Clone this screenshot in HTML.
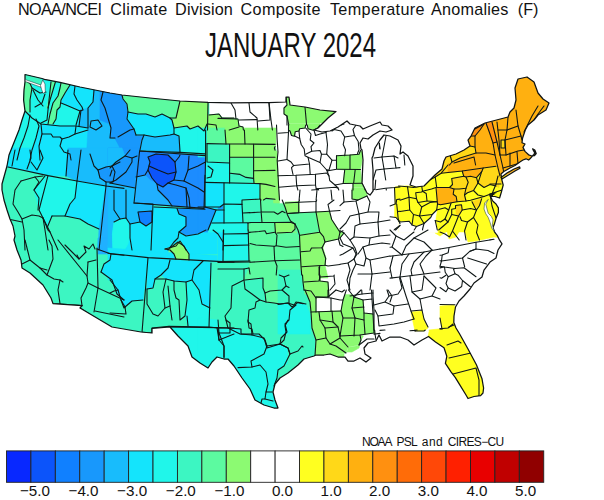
<!DOCTYPE html>
<html lang="en"><head><meta charset="utf-8"><title>NOAA/NCEI Climate Division Composite Temperature Anomalies (F) - January 2024</title>
<style>
html,body{margin:0;padding:0;background:#fff;}
body{width:604px;height:500px;overflow:hidden;position:relative;font-family:"Liberation Sans",sans-serif;}
svg{position:absolute;left:0;top:0;}
text{font-family:"Liberation Sans",sans-serif;fill:#111;}
</style></head><body>
<svg width="604" height="500" viewBox="0 0 604 500">
<defs><clipPath id="us"><polygon points="44.4,79.4 60,82.4 80,87 100,91 110,93 122,95 150,98 180,101 208,102.4 230,102.8 269,102.6 286,102 286,97 289,97 290,105 305,107 320,110 336,111.6 328,118 318,128 314,130 322,132 330,131 338,127 347,121 350,124 360,126 363,129 370,126 380,122 382,125 388,126 392,130 386,132 380,131 373,135 368,139 363,138 360,143 361,149 362,150 363,160 362,183 367,193 370,195 373,191 373,170 372,158 373,156 375,148 380,140 384,135 390,136 398,140 401,146 400,154 403,152 408,156 413,166 413,176 410,185 416,187 424,186 430,180 435,175 442,169 444,161 446,157 456,154 464,150 470,146 468,140 471,136 475,128 485,123 508,117 510,112 514,108 516,100 515,88 518,79 527,77 534,82 538,93 543,99 549,103 546,110 538,115 534,120 528,125 525.3,130 522.6,138 522,142.7 525,144 523,147.4 525,151.4 528.6,154.8 532,156 534.5,155.7 536.2,153.5 534.8,150 532.6,148.8 533.4,150.4 534.8,153 533.6,154.6 532,156.5 530,158.8 528.6,160 526,158.8 523,160 520.6,161.5 515,165.5 510,168 503.8,171.5 501,174 501.8,179.6 503.2,185 501.4,192 499.6,198 495,196.5 490.6,196.4 492.4,200.6 496,204 498.4,207.8 498.4,212.6 496,218.6 494.2,224.6 493,227.6 494.8,232.4 497.2,235.4 499.6,240.2 502,243.8 498,250 496,258 490,262 484,270 482,277 474,283 470,289 464,296 459,301 455.5,307 454,316 453.8,322.5 456,328 459.5,333.8 468,349 476.4,364.7 482,378.8 483.6,388 483,393 480.6,395.7 474,396.5 468,398.5 466,395 459.5,384.4 455.2,377.4 451,371.8 445.4,363.3 446.8,356.3 444,347.8 435.5,342 428.5,336.5 422,340 414,345 408,340 400,337 390,337 386,339 382,341 379,335 376,341 368,343 364,348 365,354 371,358 366,362 360,358 354,361 348,361 345,357 338,357 330,354 324,355 316,355 314,356 304,359 298,365 288,373 280,378 275,384 273,392 275,400 278,408 274,408 264,405 255,400 250,389 242,378 234,366 228,359 224,359 217,357 212,362 208,368 200,363 192,357 188,346 178,336 170,327 152,328.4 152,333 141,332 112,327 80,308 82,305.6 53,303.6 51,298 43,285 30,273 22,268 21,260 17,250 14,240 15,236 13,226 10,219 7,210 4,200 2,190 2,184 7,166 9,155 11,150 15,140 19,130 22,120 25,111 23.6,100 24,90 25,82 25,74.5 42,78.5"/>
<polygon points="501,177.5 507,173 514,169 519.5,166.8 520,168.2 515,171 508.5,175 502,179"/>
</clipPath></defs>
<polygon points="44.4,79.4 60,82.4 80,87 100,91 110,93 122,95 150,98 180,101 208,102.4 230,102.8 269,102.6 286,102 286,97 289,97 290,105 305,107 320,110 336,111.6 328,118 318,128 314,130 322,132 330,131 338,127 347,121 350,124 360,126 363,129 370,126 380,122 382,125 388,126 392,130 386,132 380,131 373,135 368,139 363,138 360,143 361,149 362,150 363,160 362,183 367,193 370,195 373,191 373,170 372,158 373,156 375,148 380,140 384,135 390,136 398,140 401,146 400,154 403,152 408,156 413,166 413,176 410,185 416,187 424,186 430,180 435,175 442,169 444,161 446,157 456,154 464,150 470,146 468,140 471,136 475,128 485,123 508,117 510,112 514,108 516,100 515,88 518,79 527,77 534,82 538,93 543,99 549,103 546,110 538,115 534,120 528,125 525.3,130 522.6,138 522,142.7 525,144 523,147.4 525,151.4 528.6,154.8 532,156 534.5,155.7 536.2,153.5 534.8,150 532.6,148.8 533.4,150.4 534.8,153 533.6,154.6 532,156.5 530,158.8 528.6,160 526,158.8 523,160 520.6,161.5 515,165.5 510,168 503.8,171.5 501,174 501.8,179.6 503.2,185 501.4,192 499.6,198 495,196.5 490.6,196.4 492.4,200.6 496,204 498.4,207.8 498.4,212.6 496,218.6 494.2,224.6 493,227.6 494.8,232.4 497.2,235.4 499.6,240.2 502,243.8 498,250 496,258 490,262 484,270 482,277 474,283 470,289 464,296 459,301 455.5,307 454,316 453.8,322.5 456,328 459.5,333.8 468,349 476.4,364.7 482,378.8 483.6,388 483,393 480.6,395.7 474,396.5 468,398.5 466,395 459.5,384.4 455.2,377.4 451,371.8 445.4,363.3 446.8,356.3 444,347.8 435.5,342 428.5,336.5 422,340 414,345 408,340 400,337 390,337 386,339 382,341 379,335 376,341 368,343 364,348 365,354 371,358 366,362 360,358 354,361 348,361 345,357 338,357 330,354 324,355 316,355 314,356 304,359 298,365 288,373 280,378 275,384 273,392 275,400 278,408 274,408 264,405 255,400 250,389 242,378 234,366 228,359 224,359 217,357 212,362 208,368 200,363 192,357 188,346 178,336 170,327 152,328.4 152,333 141,332 112,327 80,308 82,305.6 53,303.6 51,298 43,285 30,273 22,268 21,260 17,250 14,240 15,236 13,226 10,219 7,210 4,200 2,190 2,184 7,166 9,155 11,150 15,140 19,130 22,120 25,111 23.6,100 24,90 25,82 25,74.5 42,78.5" fill="#fff"/>
<g clip-path="url(#us)">
<polygon points="209,60 209,102.4 209,115 219,114 222,118 238,119 239,126 243,127 244,135 273,134 275,146 276,150 278,162 277,176 278,186 282,200 285,202 299,201.6 299.6,212.5 328,212 331,220 339,230 344,233 340,238 332,240 325,241 323,248 326,258 325,266 319.5,267 320,281 328,282 328,297 316,297 316,312 341,311 343,300 347,288 354,297 363,300 364,313 373,314 374,333 360,335 361,340 359,345 348,347 346,353 338,354 333,357 330,370 300,430 0,430 0,60" fill="#3cf6c2" stroke="#3cf6c2" stroke-width="0.6"/>
<polygon points="0,60 124,60 124,164 0,164" fill="#14e4fc" stroke="#14e4fc" stroke-width="0.6"/>
<polygon points="20,68 60,82 58,96 53,103 50,114 48,124 41,124 39,126 36,138 32,150 30,164 0,164 0,68" fill="#20f6ea" stroke="#20f6ea" stroke-width="0.6"/>
<polygon points="61,103 66,105 80,111 76,125 60,125 53,124 56,119 57,110 60,107" fill="#20f6ea" stroke="#20f6ea" stroke-width="0.6"/>
<polygon points="24,80 30,83.6 32,88 30,100 30,112 24,111.6" fill="#5cfaa0" stroke="#5cfaa0" stroke-width="0.6"/>
<polygon points="24,73 41,78.4 42.6,85.6 30,83.6 25,80.4" fill="#3cf6c2" stroke="#3cf6c2" stroke-width="0.6"/>
<polygon points="51.4,81.6 55.4,82 52.4,92 50,100 48,108 46.4,108 49,98" fill="#5cfaa0" stroke="#5cfaa0" stroke-width="0.6"/>
<polygon points="61,82.6 70.4,84.6 65,93 61,100 60,107 57,110 56,119 53,124 48,124 50,114 53,103 58,96 60,88" fill="#5cfaa0" stroke="#5cfaa0" stroke-width="0.6"/>
<polygon points="94,88 104,90 101,100 105,108 108,118 111,128 110,138 116,139 124,150 124,164 86,164 88,128 79,126 81,110 88,108 93,102" fill="#18bcfc" stroke="#18bcfc" stroke-width="0.6"/>
<polygon points="72,149 82,150 80,164 70,164" fill="#18bcfc" stroke="#18bcfc" stroke-width="0.6"/>
<polygon points="103,90 124,94 124,150 120,146 115,138.4 110,138 111,128 108,118 105,108 101,100" fill="#1898fc" stroke="#1898fc" stroke-width="0.6"/>
<polygon points="0,148 68,148 66,176 48,175.6 8,167 0,166" fill="#14e4fc" stroke="#14e4fc" stroke-width="0.6"/>
<polygon points="68,148 81,148 77,181 66,176" fill="#18bcfc" stroke="#18bcfc" stroke-width="0.6"/>
<polygon points="81,148 124,148 124,188.4 106,186 77,181" fill="#18bcfc" stroke="#18bcfc" stroke-width="0.6"/>
<polygon points="98,170 106,167 112,166 120,162 124,162 124,185 113,182 106,182 100,178" fill="#1898fc" stroke="#1898fc" stroke-width="0.6"/>
<polygon points="34,190 45,176 48,175.6 43,200 39,210" fill="#20f6ea" stroke="#20f6ea" stroke-width="0.6"/>
<polygon points="48,175.6 77,181 75,198 70,204 65,216 52,216 47,228 43,218 39,210" fill="#20f6ea" stroke="#20f6ea" stroke-width="0.6"/>
<polygon points="77,181 106,186 99,229 88,224 80,219 65,216 70,204 75,198" fill="#14e4fc" stroke="#14e4fc" stroke-width="0.6"/>
<polygon points="106,186 124,188.4 124,254 98,254 99,229" fill="#20b0ff" stroke="#20b0ff" stroke-width="0.6"/>
<polygon points="98,238 109,238 108,248.4 97.6,249" fill="#20b0ff" stroke="#20b0ff" stroke-width="0.6"/>
<polygon points="109,238 124,238 124,255 111,254 108,248.4" fill="#14e4fc" stroke="#14e4fc" stroke-width="0.6"/>
<polygon points="111,254 124,255 124,300 117,294 112,280 101,272 104,264 110,260" fill="#14e4fc" stroke="#14e4fc" stroke-width="0.6"/>
<polygon points="100,90 122,95 123,99 127,104 128,112 127,119 134,129 130,130 118,137 110,124 100,120" fill="#1898fc" stroke="#1898fc" stroke-width="0.6"/>
<polygon points="115,138 124,134 131,128 135,130 136,135.6 143.6,135 142,140 140,150 139,154 124,155 120,148 117,142" fill="#1898fc" stroke="#1898fc" stroke-width="0.6"/>
<polygon points="122,94 180,100 176,118 170,118 162,114 155,117 146,114 138,114 128,112 127,104 123,99" fill="#5cfaa0" stroke="#5cfaa0" stroke-width="0.6"/>
<polygon points="180,100 208,101.6 207,124 204,131 198,126 190,129 187,126 174,128 172,120 176,118" fill="#8cfa72" stroke="#8cfa72" stroke-width="0.6"/>
<polygon points="128,112 138,114 146,114 155,117 162,114 170,118 172,120 174,128 174,134 170,135 155,137 144,135 136,135 134,129 127,119" fill="#14e4fc" stroke="#14e4fc" stroke-width="0.6"/>
<polygon points="174,128 187,126 190,129 198,126 204,131 207,124 207,154 180,152 179,136 174,134" fill="#20f6ea" stroke="#20f6ea" stroke-width="0.6"/>
<polygon points="144,135 155,137 170,135 174,134 179,136 180,152 140,150 142,140" fill="#18bcfc" stroke="#18bcfc" stroke-width="0.6"/>
<polygon points="207.6,115 219,114 222,118 234,118 234,130 225,130 226,143.6 207.6,143.6" fill="#8cfa72" stroke="#8cfa72" stroke-width="0.6"/>
<polygon points="207,144 234,144 234,164 207,164" fill="#5cfaa0" stroke="#5cfaa0" stroke-width="0.6"/>
<polygon points="108,148 140,148 139.6,151 137,176 135,188 122,186 110,183.6 108,182" fill="#1898fc" stroke="#1898fc" stroke-width="0.6"/>
<polygon points="108,148 122,148 125,156 116,162 110,168 108,168" fill="#18bcfc" stroke="#18bcfc" stroke-width="0.6"/>
<polygon points="139.6,151 205.6,155.6 204,208.4 134,203" fill="#1c8cff" stroke="#1c8cff" stroke-width="0.6"/>
<polygon points="136,177 145,175 150,180 157,184 158,190 168,200 172,206 134,203" fill="#20b0ff" stroke="#20b0ff" stroke-width="0.6"/>
<polygon points="148,157 156,154 168,155 175,162 176,172 174,180 168,183 163,187 157,184 152,178 148,170 150,162" fill="#0c54fa" stroke="#0c54fa" stroke-width="0.6"/>
<polygon points="108,183 135,188 134,203 153,204 151,254 108,254" fill="#18bcfc" stroke="#18bcfc" stroke-width="0.6"/>
<polygon points="138,212 152,211 152,222 146,226 140,222" fill="#1080ff" stroke="#1080ff" stroke-width="0.6"/>
<polygon points="114,222 120,219 126,218 130,224 140,222 146,226 152,222 151,254 113,254 112.4,234" fill="#14e4fc" stroke="#14e4fc" stroke-width="0.6"/>
<polygon points="114,222 120,219 127,220 130,234 128,244 122,254 113,254 112.4,234" fill="#20f6ea" stroke="#20f6ea" stroke-width="0.6"/>
<polygon points="154,207 177,208.4 179,214 186,217 186,226 179,232 178,238 174,242 168,254 151,254 153,207" fill="#14e4fc" stroke="#14e4fc" stroke-width="0.6"/>
<polygon points="177,208.4 222,210 213,216 208,229 198,234 186,236 180,232 186,226 186,217 179,214" fill="#1898fc" stroke="#1898fc" stroke-width="0.6"/>
<polygon points="222,210 224.4,210 223,242 218,234 213,230 208,229 213,216" fill="#18bcfc" stroke="#18bcfc" stroke-width="0.6"/>
<polygon points="178,238 179,232 180,232 186,236 198,234 208,229 213,230 218,234 223,242 223,254 168,254 174,242" fill="#14e4fc" stroke="#14e4fc" stroke-width="0.6"/>
<polygon points="170,248 178,242 184,246 186,254 168,254" fill="#8cfa72" stroke="#8cfa72" stroke-width="0.6"/>
<polygon points="206,162 224.4,162 224.4,183 205.6,182" fill="#20f6ea" stroke="#20f6ea" stroke-width="0.6"/>
<polygon points="205,182.4 224.4,183.2 224.4,209.2 204,208.4" fill="#14e4fc" stroke="#14e4fc" stroke-width="0.6"/>
<polygon points="206,148 234,148 234,161.6 206.4,161.6" fill="#5cfaa0" stroke="#5cfaa0" stroke-width="0.6"/>
<polygon points="108,248 148,251 224,256 224,262.4 148,258.4 108,254.4" fill="#14e4fc" stroke="#14e4fc" stroke-width="0.6"/>
<polygon points="108,252 148,257.6 143,300 132,301 125,307 121,300 118,290 110,280 108,280" fill="#14e4fc" stroke="#14e4fc" stroke-width="0.6"/>
<polygon points="148,257.6 170,260 168,268 161,275 155,279 153,288 147,289" fill="#14e4fc" stroke="#14e4fc" stroke-width="0.6"/>
<polygon points="170,260 203,261 198,266 194,270 192,280 186,282 174,281 166,279 161,275 168,268" fill="#14e4fc" stroke="#14e4fc" stroke-width="0.6"/>
<polygon points="203,261 211,263 210,308 202,304 199,290 192,280 194,270 198,266" fill="#14e4fc" stroke="#14e4fc" stroke-width="0.6"/>
<polygon points="187,282 192,280 199,290 202,304 210,308 209,327 188,326 185,316 187,300" fill="#20f6ea" stroke="#20f6ea" stroke-width="0.6"/>
<polygon points="165,249 176,246 180,241 185,248 189,254 189,260 176,259.2 174,254 170,250" fill="#8cfa72" stroke="#8cfa72" stroke-width="0.6"/>
<polygon points="170,326.4 218,328 219,344 180,344" fill="#20f6ea" stroke="#20f6ea" stroke-width="0.6"/>
<polygon points="170,326 217,327.6 219,340 224,346 224,358 234,360 234,424 170,424" fill="#20f6ea" stroke="#20f6ea" stroke-width="0.6"/>
<polygon points="218,118.4 238,119 239,126 243,127 244,135 273,134 274.4,144 277,156 277,170 278,184 280,194 260,194 260,184 254,183 253,157 230,157 229,145 226,131 218,131" fill="#8cfa72" stroke="#8cfa72" stroke-width="0.6"/>
<polygon points="230,145 253,145 253,157 231,157" fill="#5cfaa0" stroke="#5cfaa0" stroke-width="0.6"/>
<polygon points="218,131 226,131 229,145 229,162 218,163" fill="#3cf6c2" stroke="#3cf6c2" stroke-width="0.6"/>
<polygon points="230,157.6 253,157.6 253,170 240,174.4 230,172.4" fill="#5cfaa0" stroke="#5cfaa0" stroke-width="0.6"/>
<polygon points="230,172.4 240,174.4 253,178 254,183 230,182.4" fill="#3cf6c2" stroke="#3cf6c2" stroke-width="0.6"/>
<polygon points="218,163 229,162.4 230,182.4 224,183.6 218,183.6" fill="#20f6ea" stroke="#20f6ea" stroke-width="0.6"/>
<polygon points="224,183.6 260,184 260,194 224,194" fill="#20f6ea" stroke="#20f6ea" stroke-width="0.6"/>
<polygon points="286,97 289,97 290,105 305,107 336,111.6 318,128 314,130 308,129 306,128 301,128 299,131 295,132 295,137 292,133 289,126 287,116 284,114 284,108 287,105" fill="#8cfa72" stroke="#8cfa72" stroke-width="0.6"/>
<polygon points="336,157 342,156 342,170 337,170" fill="#8cfa72" stroke="#8cfa72" stroke-width="0.6"/>
<polygon points="218,178 278,178 290,222 301,240 302,284 218,284" fill="#5cfaa0" stroke="#5cfaa0" stroke-width="0.6"/>
<polygon points="230,178 253,178 254,183 230,182.4" fill="#5cfaa0" stroke="#5cfaa0" stroke-width="0.6"/>
<polygon points="254,178 277,178 278,187 261,185 260,184 254,183" fill="#8cfa72" stroke="#8cfa72" stroke-width="0.6"/>
<polygon points="224,183 260,184 260,199 241,200 241,222 224,222.4" fill="#20f6ea" stroke="#20f6ea" stroke-width="0.6"/>
<polygon points="218,182 224,183 223,210 218,210" fill="#1898fc" stroke="#1898fc" stroke-width="0.6"/>
<polygon points="218,210 223,210 223,262 218,262" fill="#14e4fc" stroke="#14e4fc" stroke-width="0.6"/>
<polygon points="261,185 272,186 278,187 282,200 278,200 274,199 265,200 262,202 261,199" fill="#8cfa72" stroke="#8cfa72" stroke-width="0.6"/>
<polygon points="241,200 260,199 262,202 261,212 259,214 244,214 242,210" fill="#3cf6c2" stroke="#3cf6c2" stroke-width="0.6"/>
<polygon points="244,214 259,214 260,222 242,222 243,217" fill="#3cf6c2" stroke="#3cf6c2" stroke-width="0.6"/>
<polygon points="224,223 248,223 249,261 223,262" fill="#20f6ea" stroke="#20f6ea" stroke-width="0.6"/>
<polygon points="275,222.4 290,222 293,222 297,233 291,231 284,233 276,233" fill="#8cfa72" stroke="#8cfa72" stroke-width="0.6"/>
<polygon points="317,213 328,212 331,220 338,230 337,238 326,241 321,232 318,223" fill="#8cfa72" stroke="#8cfa72" stroke-width="0.6"/>
<polygon points="300,236 319,231 324,240 325,248 326,258 325,265 319,266 319,284 302,284 301,252" fill="#8cfa72" stroke="#8cfa72" stroke-width="0.6"/>
<polygon points="285,202 299,201.6 299.6,212 287,213" fill="#8cfa72" stroke="#8cfa72" stroke-width="0.6"/>
<polygon points="280,178 344,178 344,211 328,212 315,213 299.6,212.4 299,201.6 285,202 282,200 278,187" fill="#ffffff" stroke="#ffffff" stroke-width="0.6"/>
<polygon points="328,212 344,210 344,284 319,284 319,266 325,265 326,258 325,248 324,240 326,241 337,238 338,230 331,220" fill="#ffffff" stroke="#ffffff" stroke-width="0.6"/>
<polygon points="218,261 250,261 249,268 244,280 245,289 252,294 260,300 266,302 274,303 280,304 288,303 294,305 296,302 304,304 309,306 311,312 310,328 313,348 316,364 218,364" fill="#3cf6c2" stroke="#3cf6c2" stroke-width="0.6"/>
<polygon points="250,260 301,259 302,268 303,277 304,304 296,302 294,305 288,303 280,304 274,303 266,302 260,300 252,294 245,289 244,280 249,268" fill="#5cfaa0" stroke="#5cfaa0" stroke-width="0.6"/>
<polygon points="245,280 263,278 263,288 265,293 266,302 260,300 252,294 245,289" fill="#3cf6c2" stroke="#3cf6c2" stroke-width="0.6"/>
<polygon points="301,259 326,259 326,262 320,266 319,280 324,281 328,286 329,294 316,298 316,311 331,310 344,310 344,364 316,364 313,348 310,328 311,312 309,306 304,304 303,277" fill="#8cfa72" stroke="#8cfa72" stroke-width="0.6"/>
<polygon points="326,258 344,258 344,310 331,310 331,296 329,293 328,286 324,281 319,280 320,266" fill="#ffffff" stroke="#ffffff" stroke-width="0.6"/>
<polygon points="316,298 331,296 331,310 316,311" fill="#ffffff" stroke="#ffffff" stroke-width="0.6"/>
<polygon points="319,281 324,281 328,286 329,293 316,297.6 317,288" fill="#8cfa72" stroke="#8cfa72" stroke-width="0.6"/>
<polygon points="218,328 230,329 240,334 252,335 264,338 267,348 280,344 288,348 290,354 289,364 218,364" fill="#20f6ea" stroke="#20f6ea" stroke-width="0.6"/>
<polygon points="198,318 218,320 219,333 230,333 230,328 241,329 241,334 259,334 265,340 267,346 280,344 288,348 290,354 284,366 278,370 277,378 274,386 272,392 280,412 198,424" fill="#20f6ea" stroke="#20f6ea" stroke-width="0.6"/>
<polygon points="316,318 328,318 328,360 314,358 317,340 316,328" fill="#8cfa72" stroke="#8cfa72" stroke-width="0.6"/>
<polygon points="336,158 350,157 358,155 362,151 363,158 361,169 362.4,183 367,193 363,198 353,200 353,184 343,183 344,170 337,170" fill="#8cfa72" stroke="#8cfa72" stroke-width="0.6"/>
<polygon points="343,178 362,178 363,183 367,193 363,198 352,200 351,192 352,184 344,184" fill="#8cfa72" stroke="#8cfa72" stroke-width="0.6"/>
<polygon points="328,218 330,218 339,230 344,236 341,239 330,243 328,243" fill="#8cfa72" stroke="#8cfa72" stroke-width="0.6"/>
<polygon points="394,187 407,186 410,187 422,187 430,180 437,178 454,178 454,186 439,188 439,202 436,212 432,218 426,219 424,226 416,226 411,225 409,219 400,217 397,214 390,214 388,208 394,204" fill="#ffff20" stroke="#ffff20" stroke-width="0.6"/>
<polygon points="439,188 454,186 454,204 441,205 439,198" fill="#ffd818" stroke="#ffd818" stroke-width="0.6"/>
<polygon points="442,206 454,208 454,216 446,226 439,234 435,230 436,218 439,210" fill="#ffff20" stroke="#ffff20" stroke-width="0.6"/>
<polygon points="428,179 438,175 449,172 462,170 476,167 484,168 490,174 498,176 502,177 558,150 558,70 470,70 428,150" fill="#ffb010" stroke="#ffb010" stroke-width="0.6"/>
<polygon points="442,169 445,160 450,155 456,154 464,151 470,146 475,147 476,153 460,158 452,162 449,172 438,175 436,174" fill="#ffd818" stroke="#ffd818" stroke-width="0.6"/>
<polygon points="473,130 484,124 480,130 475,136 471,136" fill="#ff9010" stroke="#ff9010" stroke-width="0.6"/>
<polygon points="486,123 492,122 497,142 493,143 490,134" fill="#ff9010" stroke="#ff9010" stroke-width="0.6"/>
<polygon points="501,140 505,140 505,148 501,148" fill="#ffd818" stroke="#ffd818" stroke-width="0.6"/>
<polygon points="547,113 552,115 550,120 542,125 540,123 545,118" fill="#ff9010" stroke="#ff9010" stroke-width="0.6"/>
<polygon points="428,180 434,178 449,173 451,184 442,187 436,186 435,204 428,206" fill="#ffff20" stroke="#ffff20" stroke-width="0.6"/>
<polygon points="436,187 442,187 451,185 455,190 456,200 455,204 442,206 435,204" fill="#ffb010" stroke="#ffb010" stroke-width="0.6"/>
<polygon points="451,173 462,170 476,167 484,168 490,174 498,176 507,175 507,185 496,184 486,184 477,186 470,190 466,189 463,198 456,200 455,190 451,184" fill="#ffd818" stroke="#ffd818" stroke-width="0.6"/>
<polygon points="470,190 477,186 486,184 496,184 507,185 508,190 502,198 496,204 490,214 460,214 463,198 466,189" fill="#ffff20" stroke="#ffff20" stroke-width="0.6"/>
<polygon points="428,206 435,204 442,206 455,204 463,198 460,214 428,214" fill="#ffd818" stroke="#ffd818" stroke-width="0.6"/>
<polygon points="408,188 440,188 442,204 452,206 455,214 457,207 462,203 470,205 478,202 480,196 506,188 506,238 494,237 476,241 468,242 465,232 460,230 456,237 449,239 447,231 440,236 435,233 436,226 433,220 430,225 425,226 418,220 414,224 408,222" fill="#ffff20" stroke="#ffff20" stroke-width="0.6"/>
<polygon points="440,188 453,188 455,200 464,198 470,195 480,196 478,202 470,205 462,203 457,207 455,214 452,206 442,204" fill="#ffd818" stroke="#ffd818" stroke-width="0.6"/>
<polygon points="472,198 481,196 483,202 480,208 474,206" fill="#ffd818" stroke="#ffd818" stroke-width="0.6"/>
<polygon points="347,286 352,296 363,300 364,314 373,315 375,334 364,335 360,342 359,348 352,352 314,352 314,312 330,311 338,302 341,300 343,292" fill="#8cfa72" stroke="#8cfa72" stroke-width="0.6"/>
<polygon points="316,297 331,298 331,311 316,312" fill="#ffffff" stroke="#ffffff" stroke-width="0.6"/>
<polygon points="411,312 422,311 424,320 428,328 424,331 415,331 413,322" fill="#ffff20" stroke="#ffff20" stroke-width="0.6"/>
<polygon points="440,306 454,305 456,310 455,318 454,325 449,327 442,329 440,318" fill="#ffff20" stroke="#ffff20" stroke-width="0.6"/>
<polygon points="429,332 442,329 449,327 454,325 468,354 444,354 438,344 428,337" fill="#ffff20" stroke="#ffff20" stroke-width="0.6"/>
<polygon points="429,330 448,328 453,324 462,320 538,320 538,424 430,424 430,340" fill="#ffff20" stroke="#ffff20" stroke-width="0.6"/>
<polygon points="207,128 225,128 226,144 207,143.6" fill="#5cfaa0" stroke="#5cfaa0" stroke-width="0.6"/>
<polygon points="225,128 276,128 276,144.4 274.4,148 277,157 277,170 278,186 277,187 266,184.4 260,183.6 254,183 253.6,178.4 253.6,157.6 230,157.6 229.6,144.4 226,144" fill="#8cfa72" stroke="#8cfa72" stroke-width="0.6"/>
<polygon points="207,143.6 229.6,144.4 229.6,163 207,162" fill="#3cf6c2" stroke="#3cf6c2" stroke-width="0.6"/>
<polygon points="230,157.6 253.6,157.6 253.6,178.4 246,177.4 240,174.4 230,173.2" fill="#5cfaa0" stroke="#5cfaa0" stroke-width="0.6"/>
<polygon points="230,173.2 240,174.4 246,177.4 253.6,178.4 254,183.2 230,183.2" fill="#3cf6c2" stroke="#3cf6c2" stroke-width="0.6"/>
<polygon points="205.6,162 229.6,163 229.6,182.8 205,182.4" fill="#20f6ea" stroke="#20f6ea" stroke-width="0.6"/>
<polygon points="198,157 205.6,157 205,182.4 205,207 198,207" fill="#1c8cff" stroke="#1c8cff" stroke-width="0.6"/>
<polygon points="198,128 206,128 205.6,157 198,157" fill="#20f6ea" stroke="#20f6ea" stroke-width="0.6"/>
<polygon points="205,182.4 224,183 224,204 220,207 205,207" fill="#14e4fc" stroke="#14e4fc" stroke-width="0.6"/>
<polygon points="224,183.2 260,183.6 260,199 242,200 242,204.4 224,204" fill="#20f6ea" stroke="#20f6ea" stroke-width="0.6"/>
<polygon points="260,183.6 266,184.4 277,187 281,199 276,199.4 266,198.4 262,201 260,199" fill="#8cfa72" stroke="#8cfa72" stroke-width="0.6"/>
<polygon points="242,200 260,199 261,212 243,213 242,204.4" fill="#3cf6c2" stroke="#3cf6c2" stroke-width="0.6"/>
<polygon points="262,201 266,198.4 276,199.4 281,199 284,210 279,212.4 274,214.4 261,212 260,199" fill="#5cfaa0" stroke="#5cfaa0" stroke-width="0.6"/>
<polygon points="224,204 242,204.4 243,222.4 224,223" fill="#20f6ea" stroke="#20f6ea" stroke-width="0.6"/>
<polygon points="243,213 261,212 260,222.6 243,222.6" fill="#3cf6c2" stroke="#3cf6c2" stroke-width="0.6"/>
<polygon points="261,212 274,214.4 279,212.4 284,210.4 288,220 291,223 261,222.6" fill="#5cfaa0" stroke="#5cfaa0" stroke-width="0.6"/>
<polygon points="198,207 205,207 216,210 212,220 208,232 198,232" fill="#1898fc" stroke="#1898fc" stroke-width="0.6"/>
<polygon points="216,210 224,210 224,223 212,223 212,220" fill="#14e4fc" stroke="#14e4fc" stroke-width="0.6"/>
<polygon points="212,223 248,223.2 248,232 208,232" fill="#20f6ea" stroke="#20f6ea" stroke-width="0.6"/>
<polygon points="248,223.2 275.6,222.8 275.6,232 248,232" fill="#5cfaa0" stroke="#5cfaa0" stroke-width="0.6"/>
<polygon points="275.6,222.8 291,222.6 295,232 275.6,232" fill="#8cfa72" stroke="#8cfa72" stroke-width="0.6"/>
<polygon points="285,202 299,201.4 299.4,212.4 287,213" fill="#8cfa72" stroke="#8cfa72" stroke-width="0.6"/>
<polygon points="289,214 316,213 319,232 295,232 291,223" fill="#5cfaa0" stroke="#5cfaa0" stroke-width="0.6"/>
<polygon points="288,128 300,128 299,136 292,133" fill="#8cfa72" stroke="#8cfa72" stroke-width="0.6"/>
<polygon points="302,268 374,268 374,336 360,335 361,340 359,345 348,347 346,353 338,354 333,357 315,356 316,340 312,328 311,312 310,302 305,290 304,270" fill="#ffffff" stroke="#ffffff" stroke-width="0.6"/>
<polygon points="288,290 305,290 310,302 311,312 312,328 316,340 315,356 314,374 288,374" fill="#3cf6c2" stroke="#3cf6c2" stroke-width="0.6"/>
<polygon points="304,268 319,268 320,281 328,282 328,297 316,297 316,312 311,312 310,302 305,290" fill="#8cfa72" stroke="#8cfa72" stroke-width="0.6"/>
<polygon points="311,312 316,312 331,311 341,311 343,318 340,336 360,335 361,340 359,345 348,347 346,353 338,354 333,357 315,356.4 316,340 312,328" fill="#8cfa72" stroke="#8cfa72" stroke-width="0.6"/>
<polygon points="347,288 354,297 363,300 364,313 373,314 374,333 360,335 340,336 343,318 341,311 343,300" fill="#8cfa72" stroke="#8cfa72" stroke-width="0.6"/>
<polygon points="328.5,178.5 396,178.5 394.5,187.5 395.2,204 389.2,206.2 387.7,212.2 390,216.7 396,217.5 399,221.2 402,226.5 402,258 328.5,258" fill="#ffffff" stroke="#ffffff" stroke-width="0.6"/>
<polygon points="343.5,178.5 362.2,178.5 362.2,182.2 366.7,193.5 362.2,197.2 352.5,200.2 351.7,192 352.5,183 344.2,183" fill="#8cfa72" stroke="#8cfa72" stroke-width="0.6"/>
<polygon points="328.5,220.5 330,222 333.7,225 339,229.5 344.2,232.5 343.5,237 337.5,238.5 336.7,240.7 328.5,243" fill="#8cfa72" stroke="#8cfa72" stroke-width="0.6"/>
<polygon points="394.5,187.5 407.2,186 423,187.5 423,225 411.7,225 409.5,222 399,221.2 396,217.5 390,216.7 387.7,212.2 389.2,206.2 395.2,204" fill="#ffff20" stroke="#ffff20" stroke-width="0.6"/>
<polygon points="398.5,186 407.5,186.7 413.5,187.5 421.7,186 425.5,182.2 435.2,177 441.2,173.2 448,172.5 462.2,171 496,165 496,231.9 398.5,231.9" fill="#ffff20" stroke="#ffff20" stroke-width="0.6"/>
<polygon points="398.5,222 409,221.2 412,225 416.5,226.5 424,223.5 430.7,217.5 432.2,214.5 436.7,210 435.2,220.5 437.5,231 437.5,232.5 398.5,232.5" fill="#ffffff" stroke="#ffffff" stroke-width="0.6"/>
<polygon points="441.2,173.2 448,163.5 450.2,163.5 448,172.5" fill="#ffd818" stroke="#ffd818" stroke-width="0.6"/>
<polygon points="448,163.5 496,163.5 496,166.5 483.2,168 462.2,171 448,172.5" fill="#ffb010" stroke="#ffb010" stroke-width="0.6"/>
<polygon points="462.2,171 483.2,168 481.7,171.7 476.5,177.7 470.5,176.2 466,177 463.7,176.2" fill="#ffb010" stroke="#ffb010" stroke-width="0.6"/>
<polygon points="436.7,187.5 449.5,187.5 454,189 453.2,194.2 456.2,196.5 457,201.7 440.5,204.7 437.5,204" fill="#ffb010" stroke="#ffb010" stroke-width="0.6"/>
<polygon points="451.7,178.5 463.7,176.2 466,177 470.5,176.2 476.5,177.7 478,183 473.5,190.5 467.5,192.7 464.5,195 466,201 457,201.7 456.2,196.5 453.2,194.2 454,189 449.5,187.5 452.5,184.5" fill="#ffd818" stroke="#ffd818" stroke-width="0.6"/>
<polygon points="483.2,168 496,166.2 499,174 499,187.5 496,186 490,184.5 484,187.5 478,183 481.7,171.7" fill="#ffd818" stroke="#ffd818" stroke-width="0.6"/>
<polygon points="455.5,205.5 461.5,204.7 462.2,210 458.5,216 456.2,214.5" fill="#ffd818" stroke="#ffd818" stroke-width="0.6"/>
<polygon points="472,201.7 481.7,198.7 479.5,205.5 475,207.7" fill="#ffd818" stroke="#ffd818" stroke-width="0.6"/>
<polygon points="278,123.5 368,123.5 368,203 279.5,203 278.7,188 278,174.5 277.2,160.2 278,152 277.2,140" fill="#ffffff" stroke="#ffffff" stroke-width="0.6"/>
<polygon points="288.5,123.5 305.7,123.5 305,128 299.7,128.7 299,131 295.2,131.7 294.5,136.2 291.5,135.5 290,131 288.5,130.2" fill="#8cfa72" stroke="#8cfa72" stroke-width="0.6"/>
<polygon points="307.2,123.5 320,123.5 317.7,128 313.2,130.2 308,128.7" fill="#8cfa72" stroke="#8cfa72" stroke-width="0.6"/>
<polygon points="273.5,150.5 277.2,151.2 278,174.5 278.7,188 279.5,203 273.5,203" fill="#8cfa72" stroke="#8cfa72" stroke-width="0.6"/>
<polygon points="336.5,155.7 350,155 359,154.2 360.5,150.5 362.7,152 362,161 360.5,169.5 362,183.2 365,192.5 363.5,203 353,203 353,183.5 343.2,183.5 344.7,170 337.2,169.2" fill="#8cfa72" stroke="#8cfa72" stroke-width="0.6"/>
<polygon points="316,188 394,188 394,294 320,294 320,277 319,267 325,266 326,258 323,248 325,241 319,227 316,213 299.6,212.4 299,201.6 300,188" fill="#ffffff" stroke="#ffffff" stroke-width="0.6"/>
<polygon points="289,214 316,213 319,227 319,233 300,235 296,228 292,221" fill="#5cfaa0" stroke="#5cfaa0" stroke-width="0.6"/>
<polygon points="317,213 328,212 331,220 339,230 344,233 340,238 332,240 325,241 323,237 319,227" fill="#8cfa72" stroke="#8cfa72" stroke-width="0.6"/>
<polygon points="300,235 319,233 323,237 325,241 323,248 326,258 325,266 319,267 320,277 320,294 304,294 302,267 301,251" fill="#8cfa72" stroke="#8cfa72" stroke-width="0.6"/>
<polygon points="285,202 299,201.6 299.6,212 287,213" fill="#8cfa72" stroke="#8cfa72" stroke-width="0.6"/>
<polygon points="352,188 366,188 367,196 358,200 352,199" fill="#8cfa72" stroke="#8cfa72" stroke-width="0.6"/>
<polygon points="275.5,222.8 290.5,222.5 295,224.3 295,229.2 292,232.2 277,233 275.2,232.2" fill="#8cfa72" stroke="#8cfa72" stroke-width="0.6"/>
<polygon points="285.2,203 298.7,202.2 298.7,212.7 287.5,213.5" fill="#8cfa72" stroke="#8cfa72" stroke-width="0.6"/>
<polygon points="287.5,213.5 298.7,212.7 316,212 319,228.5 319.7,232.2 300.2,235.2 298,230 295,224 290.5,221" fill="#5cfaa0" stroke="#5cfaa0" stroke-width="0.6"/>
<polygon points="316,212 329.5,211.2 331.7,219.5 338.5,230 340,232.2 338.5,239 325,242 323.5,236.7 319.7,232.2 319,228.5" fill="#8cfa72" stroke="#8cfa72" stroke-width="0.6"/>
<polygon points="300.2,235.2 319.7,232.2 323.5,236.7 325,242 322,247.7 325.7,258.5 325,265.2 301.7,266.7 301,278 328,278 325,265.2" fill="#8cfa72" stroke="#8cfa72" stroke-width="0.6"/>
<polygon points="300.2,235.2 301,278 319,278 319.7,266 325,265.2 325.7,258.5 322,247.7 325,242 323.5,236.7 319.7,232.2" fill="#8cfa72" stroke="#8cfa72" stroke-width="0.6"/>
<polygon points="301,267 319,267 320,281 328,282 329,297 316,298 311,291 304,290 303,278" fill="#8cfa72" stroke="#8cfa72" stroke-width="0.6"/>
<polygon points="278,270 300,270 301,272 302.4,282 304,290 305,298 306,304 278,304" fill="#3cf6c2" stroke="#3cf6c2" stroke-width="0.6"/>
<polygon points="278,304.4 288,303 292,307 298,302.4 306,304 310,314 310.4,334 278,334" fill="#20f6ea" stroke="#20f6ea" stroke-width="0.6"/>
<g fill="none" stroke="#101818" stroke-width="1.1" stroke-linejoin="round" stroke-linecap="round">
<polyline points="25,111 32,118 41,124 60,126 76,126 88,128"/>
<polyline points="94,90 93,102 88,108 88,128"/>
<polyline points="103,92 101,100 105,108 108,118 111,128 110,138 115,138"/>
<polyline points="70,85 65,93 61,100 60,107 57,110 56,119 53,124"/>
<polyline points="61,83 60,88 58,96 53,103 50,114 48,124"/>
<polyline points="51,82 49,100 47,120 41,123"/>
<polyline points="55.4,82 52.4,92 50,100 48,108"/>
<polyline points="25,80.4 30,83.6 32,88 30,100 30,112"/>
<polyline points="33,90 38,100 43,106"/>
<polyline points="35,107 42,103 45,94"/>
<polyline points="32,88 40,93 46,92"/>
<polyline points="75,86 74,94 77,100 82,107 83,110 80,111 66,105 61,103"/>
<polyline points="80,111 76,125"/>
<polyline points="30,115 28,126 24,138 20,148 17,160"/>
<polyline points="36,119 39,126 36,138 32,150 30,160"/>
<polyline points="41,124 42,134 51,134 53,137 60,137 62,139 69,137 75,134 76,126"/>
<polyline points="42,134 39,146 40,160"/>
<polyline points="62,139 60,146 64,152 70,154 71,160"/>
<polyline points="75,134 88,130"/>
<polyline points="81,110 79,126"/>
<polyline points="91,121 98,120 102,126 96,130 90,127 91,121"/>
<polyline points="8,167 48,175.6 77,181 106,186 124,188.4"/>
<polyline points="48,175.6 39,210 50,232 58,250"/>
<polyline points="106,186 99,250"/>
<polyline points="81,150 77,181"/>
<polyline points="68,150 66,176"/>
<polyline points="77,181 75,198 70,204 65,216"/>
<polyline points="52,216 65,216 80,219 88,224 99,229"/>
<polyline points="52,216 47,228"/>
<polyline points="21,181 35,177 43,176"/>
<polyline points="21,181 15,190 13,204 18,212 22,219 24,230 25,250"/>
<polyline points="35,177 39,182 34,190 39,198 38,210"/>
<polyline points="34,190 45,176"/>
<polyline points="22,219 32,215 39,216 43,218"/>
<polyline points="43,218 48,230 50,232"/>
<polyline points="43,218 45,230 48,250"/>
<polyline points="8,219 22,222"/>
<polyline points="12,166 15,150"/>
<polyline points="27,169 31,158 30,150"/>
<polyline points="31,162 37,170 43,158 40,150"/>
<polyline points="90,154 94,166 98,170 106,167 112,166 120,162"/>
<polyline points="98,170 100,178 106,182 113,182 115,172 112,166"/>
<polyline points="106,182 106,186"/>
<polyline points="58,240 87,276"/>
<polyline points="97,249 111,254 124,255.2"/>
<polyline points="97,248 98,288 94,312"/>
<polyline points="88,262 87,276 88,283 86,288 81,298 82,305.6"/>
<polyline points="88,262 96,260"/>
<polyline points="53,303.6 82,305.6"/>
<polyline points="80,308 112,328.6 120,333"/>
<polyline points="25,240 28,252 30,260 22,264"/>
<polyline points="30,260 40,268 47,275 54,279 60,280"/>
<polyline points="47,275 53,259 52,246 49,240"/>
<polyline points="40,268 47,270"/>
<polyline points="60,280 58,290 60,303.6"/>
<polyline points="60,280 63,282"/>
<polyline points="65,245 76,256 79,259 86,252 84,246 89,249 93,244 95,249"/>
<polyline points="79,259 77,255"/>
<polyline points="88,283 98,288"/>
<polyline points="98,288 124,300"/>
<polyline points="95,311 124,317"/>
<polyline points="101,272 104,264 110,260 111,254"/>
<polyline points="101,272 112,280 117,294 124,300"/>
<polyline points="208,102.4 207.5,130"/>
<polyline points="139.6,151 180,152.4 205,153.9"/>
<polyline points="122,95 123,99 127,104 128,112 127,119 134,129 136,135"/>
<polyline points="134,129 130,130 118,137"/>
<polyline points="128,112 138,114 146,114 155,117 162,114 170,118 176,118 180,101"/>
<polyline points="170,118 172,120 174,128 174,134 170,135 155,137 144,135 136,135"/>
<polyline points="174,128 187,126 190,129 198,126 204,131 207,124"/>
<polyline points="174,134 179,136 180,152"/>
<polyline points="144,135 142,140 140,150"/>
<polyline points="209,115 219,114 222,118 234,118"/>
<polyline points="208,124 216,125 217,130"/>
<polyline points="139.6,151 205,155.6"/>
<polyline points="205,175.4 204,208.4 134,203 139.6,151"/>
<polyline points="148,157 156,154 168,155 175,162 176,172 174,180 168,183 163,187 157,184 152,178 148,170 150,162 148,157"/>
<polyline points="149,166 158,170 168,174 176,172"/>
<polyline points="175,162 179,157 180,155"/>
<polyline points="174,180 184,181 188,170 198,166 205,162.3"/>
<polyline points="188,170 189,156"/>
<polyline points="184,181 198,188 204,192"/>
<polyline points="168,183 176,185 186,188 189,198 190,208"/>
<polyline points="157,184 158,190 168,200 172,206"/>
<polyline points="136,177 145,175 148,170"/>
<polyline points="186,188 187,207"/>
<polyline points="110,183 135,188"/>
<polyline points="114,190 114,210 120,219 114,222"/>
<polyline points="126,190 126,218"/>
<polyline points="134,203 153,204 151,250"/>
<polyline points="138,212 152,211 152,222 146,226 140,222 138,212"/>
<polyline points="120,219 126,218 130,224 140,222"/>
<polyline points="130,224 130,238 132,250"/>
<polyline points="154,207 205,209.2"/>
<polyline points="177,208.4 179,214 186,217 186,226 179,232 178,238 174,242 168,250"/>
<polyline points="179,232 186,236 198,234 206,230"/>
<polyline points="213,230 218,234 223,242"/>
<polyline points="223.7,230 223,250"/>
<polyline points="110,168 116,162 125,156 130,150"/>
<polyline points="125,156 132,158 137,156"/>
<polyline points="110,183 116,180 126,172 132,162 132,158"/>
<polyline points="110,176 112,170"/>
<polyline points="170,248 178,242 184,246 186,250"/>
<polyline points="108,253.2 148,257.6 222,261.6 234,262.2"/>
<polyline points="148,257.6 142,332.4"/>
<polyline points="211,263 209,327"/>
<polyline points="142,332.4 152,333 152,328 169,326.4 209,327 218,328 219,340"/>
<polyline points="169,326.4 180,340"/>
<polyline points="165,249 176,246 180,241 185,248 189,254 189,260"/>
<polyline points="165,249 170,250 174,254 176,259.2"/>
<polyline points="110,280 118,290 121,300 125,307 132,301 143,300"/>
<polyline points="118,290 114,291 110,293"/>
<polyline points="121,300 124,308 125,307"/>
<polyline points="125,307 126,314 110,313"/>
<polyline points="170,260 168,268 161,275 155,279 153,288 147,289"/>
<polyline points="203,261 198,266 194,270 192,280 199,290 202,304 210,308"/>
<polyline points="155,279 166,279 174,281 186,282 192,280"/>
<polyline points="166,279 163,292 165,308 158,316 153,314 147,304 147,289"/>
<polyline points="174,281 174,290 176,298 179,300 180,320 185,316 187,300 186,282"/>
<polyline points="168,286 170,306 172,320"/>
<polyline points="165,308 170,306"/>
<polyline points="187,316 188,326"/>
<polyline points="170,327 217,327.6 219,340 224,346 224,358"/>
<polyline points="217,327.6 234,328"/>
<polyline points="219,340 234,334"/>
<polyline points="231,103 235,110 236,119"/>
<polyline points="249,103 250,112 257,118 257.8,130"/>
<polyline points="269,103 270,120 258,121"/>
<polyline points="218,118.4 238,119 239,126 243,127 243.4,130"/>
<polyline points="239,120 257,119.6"/>
<polyline points="269,102.6 271,120 272.4,130"/>
<polyline points="229.2,130 239,127"/>
<polyline points="305,107 306.6,125"/>
<polyline points="286,97 287,105 284,108 284,114 287,116 288.8,125"/>
<polyline points="287,116 287,125"/>
<polyline points="341,125 344,124"/>
<polyline points="223.4,230 223,262"/>
<polyline points="248.2,230 249,261"/>
<polyline points="224,234 248,233.6"/>
<polyline points="224,245.6 249,245"/>
<polyline points="249,232.4 250,232.4"/>
<polyline points="218,262.4 250,262"/>
<polyline points="218,261.6 250,261"/>
<polyline points="218,269 244,269 249,268"/>
<polyline points="244,269 244,280 245,289 252,294 260,300 266,302 274,303 280,304 288,303 294,305 296,302 303,303.8"/>
<polyline points="249,268 250,274"/>
<polyline points="279.3,275 284,277 286,286 282,290 270,291 265,293 263,288 263,278 245,280"/>
<polyline points="284,277 289,275.1"/>
<polyline points="286,286 289,287.5"/>
<polyline points="282,290 289,296 289,303"/>
<polyline points="265,293 266,302"/>
<polyline points="244,280 232,286 231,308 225,316 228,328 240,334 252,335 251,324 248,322 249,310 255,308 256,302 260,300"/>
<polyline points="252,335 264,338 267,348 280,344 288,348 290,354"/>
<polyline points="280,344 281,338 287,332 285,324 289,320 290,310 296,305"/>
<polyline points="315.5,358 316,360"/>
<polyline points="228,328 218,328"/>
<polyline points="218,320 219,333 230,333 230,328 241,329 241,334 259,334 265,340 267,346 280,344 288,348 290,354 284,366 278,370 277,378 274,386"/>
<polyline points="219,333 224,346 224,357"/>
<polyline points="267,346 264,354 251,361 252,367 238,367.6"/>
<polyline points="252,367 260,365 266,372 268,384 266,392 272,392"/>
<polyline points="266,392 265,399 262,399 261,403"/>
<polyline points="265,399 273,401"/>
<polyline points="280,344 284,340 286,332 285,326 288,320"/>
<polyline points="290,354 298,351 302,346 303,347"/>
<polyline points="248,320 249,328 252,329 253,334"/>
<polyline points="226,320 230,323 230,328"/>
<polyline points="374,158 382,157 394,156 398,158"/>
<polyline points="382,157 386,136"/>
<polyline points="382,157 384,169 376,170 373,180"/>
<polyline points="394,156 396,168 384,169"/>
<polyline points="396,168 400,167.6"/>
<polyline points="404.8,165 404,155"/>
<polyline points="385.7,180 384,169"/>
<polyline points="379.4,143 380,149"/>
<polyline points="379.2,143.6 379.8,148.4"/>
<polyline points="450,155 452,162 449.5,165"/>
<polyline points="452,162 460,158 476,153 475,147 470,146"/>
<polyline points="454,163 474,157 475.6,165"/>
<polyline points="476,153 486,153 495,155"/>
<polyline points="475,147 475,136 480,130 484,124"/>
<polyline points="471,136 475,136"/>
<polyline points="473,130 484,124"/>
<polyline points="486,123 490,134 493,143 495,155 498,168 500,176"/>
<polyline points="492,122 497,142 500,155 503,168 504,174"/>
<polyline points="497,142 493,143"/>
<polyline points="497,122 499,140 500,155"/>
<polyline points="508,117 507,130 505,140 506,155"/>
<polyline points="516,110 518,126 521,136 522,140"/>
<polyline points="500,155 506,155 518,151 524,150"/>
<polyline points="503,168 510,166 520,163 524,160"/>
<polyline points="518,164 517,152"/>
<polyline points="510,153 510,166"/>
<polyline points="507,130 518,126"/>
<polyline points="505,140 521,136"/>
<polyline points="524,132 532,116 538,106"/>
<polyline points="530,126 538,114 544,106"/>
<polyline points="498,130 507,130"/>
<polyline points="501,140 505,140 505,148 501,148 501,140"/>
<polyline points="490,184 496,184"/>
<polyline points="490,195.6 494,194"/>
<polyline points="490,196 494,194"/>
<polyline points="496,184 492,194 494,202"/>
<polyline points="498,176 496,184 501,184"/>
<polyline points="547,113 545,118 540,123"/>
<polyline points="490,194 502,190"/>
<polyline points="490,194 492,206 496,218"/>
<polyline points="490,216 492,226"/>
<polyline points="374.6,330 375,334 376,340"/>
<polyline points="414.8,330 415,331"/>
<polyline points="374,334.1 375,334"/>
<polyline points="375,334 380,333.4"/>
<polyline points="410,330.8 415,330.4 417.2,330"/>
<polyline points="440,328.9 442,329"/>
<polyline points="425.3,330 424,331 415,331"/>
<polyline points="440,318 442,329"/>
<polyline points="449,327 454,325"/>
<polyline points="440,328.8 448,328 453,324"/>
<polyline points="447,345 458,341 461,343"/>
<polyline points="449,358 471,353"/>
<polyline points="453,374 476,368 479,380 479,396"/>
<polyline points="205.6,130 205.6,157 205,182.4 205,207"/>
<polyline points="207,143.6 226,144 245,144 275,144.4"/>
<polyline points="225,130 226,144"/>
<polyline points="244.4,130 245,144"/>
<polyline points="229.6,144.4 229.6,183"/>
<polyline points="253.6,144.4 253.6,178.4 254,183"/>
<polyline points="230,157.2 275,157.2"/>
<polyline points="207,143.6 207,162 229.6,163"/>
<polyline points="230,173.2 240,174.4 246,177.4 253.6,178.4"/>
<polyline points="254,170.8 275,170.4"/>
<polyline points="208,166 213,170 211,177 207,178"/>
<polyline points="275,146.6 274.4,148 275,150.1"/>
<polyline points="205,182.4 260,183.6 266,184.4 275,186.5"/>
<polyline points="224,183 224,223"/>
<polyline points="205,207 220,207 224,204 242,204.4 242,200 260,199 260,184"/>
<polyline points="260,199 261,200"/>
<polyline points="263.5,200 266,198.4 275,199.3"/>
<polyline points="242,204.4 243,222.4"/>
<polyline points="243,213 250,212.6"/>
<polyline points="212,223 250,222.8"/>
<polyline points="216,210 224,210"/>
<polyline points="198,207 205,207 216,210 212,220 208,230"/>
<polyline points="248,223.2 248,230"/>
<polyline points="305,290 310,302 311,312 312,328 316,340 315,356"/>
<polyline points="328,290 328,297 316,297 316,312"/>
<polyline points="316,297 331,298 331,311"/>
<polyline points="311,312 341,311"/>
<polyline points="331,298 340,300 343,300"/>
<polyline points="346.3,290 343,300 341,311 343,318 340,336"/>
<polyline points="348.6,290 354,297 363,300 364,313 373,314 374,333 360,335 340,336"/>
<polyline points="354,297 352,308 355,318 354,336"/>
<polyline points="343,318 355,318"/>
<polyline points="352,308 364,307"/>
<polyline points="355,318 364,320 365,334"/>
<polyline points="364,320 364,313"/>
<polyline points="319,312 320,320 325,328 326,338 330,344 336,346 346,353"/>
<polyline points="332,311 333,322 338,327 340,336"/>
<polyline points="320,320 333,322"/>
<polyline points="325,328 338,327"/>
<polyline points="316,340 326,338"/>
<polyline points="330,344 340,338 340,336"/>
<polyline points="348,347 340,338"/>
<polyline points="336,290 342,292 344.5,290"/>
<polyline points="328,297 336,290"/>
<polyline points="363,300 372,299 373,314"/>
<polyline points="372,299 371.5,290"/>
<polyline points="361,290 354,297"/>
<polyline points="360,335 361,340 359,345"/>
<polyline points="359,345 367,339 374,339"/>
<polyline points="440,249 449,247.5 476,242.2 489.7,240"/>
<polyline points="490,239.9 494,239.3"/>
<polyline points="440,255.2 442.2,255 448.2,252.7 449,247.5"/>
<polyline points="442.2,255 441.5,261 440,260.7"/>
<polyline points="441.5,261 462.5,258 470,251.2 476,249 476,242.2"/>
<polyline points="462.5,258 464.7,267"/>
<polyline points="440,266.2 441.5,261"/>
<polyline points="470,251.2 476,249 488,250.5 494,253.5"/>
<polyline points="467.7,258 486.5,264"/>
<polyline points="440,266.2 444.5,267 455,268.5 464,267.7 476,276.7"/>
<polyline points="444.5,267 445.2,272.2 448.2,276.7 455,273.7 453.5,269.2 455,268.5"/>
<polyline points="448.2,276.7 446,283.5 448.2,288 455,291 461.7,286.5 462.5,280.5 458,275.2 455,273.7"/>
<polyline points="462.5,280.5 470,286.5 472.2,287.2"/>
<polyline points="448.2,288 446,291.7 440,287.5"/>
<polyline points="440,277.7 441.5,278.2 446,275.2"/>
<polyline points="440,267.9 443.7,267"/>
<polyline points="440,304.5 455,304.8"/>
<polyline points="380,330.4 385,330"/>
<polyline points="365,189.2 365.3,190"/>
<polyline points="373.2,190 375,189 375.7,180"/>
<polyline points="375.7,189.7 385.5,188.2 394.5,187.5 400,186.9"/>
<polyline points="386.3,190 386.2,188.7"/>
<polyline points="394.1,230 394.5,229.5 400,225.4"/>
<polyline points="400,223.7 399,221.2"/>
<polyline points="394.5,187.5 395.2,204 390,205.9"/>
<polyline points="390,216.7 396,217.5 399,221.2 400,221.3"/>
<polyline points="400,199.1 396.7,199.5 396,204"/>
<polyline points="400,211.2 397.5,211.5 396.7,204"/>
<polyline points="397.5,211.5 398.2,219 399,221.2"/>
<polyline points="395.5,230 400,225.5"/>
<polyline points="398.5,186 407.5,186.7 413.5,187.5 421.7,186 425.5,182.2 435.2,177 441.2,173.2 448,165"/>
<polyline points="407.5,186.7 409,197.2 400,200.2"/>
<polyline points="409,197.2 416.5,198.7 415.7,192.7 421.7,192 422.5,191.2"/>
<polyline points="421.7,186 422.5,191.2 431.5,189 436,187.5"/>
<polyline points="416.5,198.7 418,202.5 427,201 426.2,193.5 422.5,191.2"/>
<polyline points="427,201 436.7,201.7"/>
<polyline points="409,197.2 409.7,210 400,211.5"/>
<polyline points="409.7,210 413.5,214.5 419.5,216 421.7,207 418,202.5"/>
<polyline points="421.7,207 430,202.5 436.7,201.7"/>
<polyline points="413.5,214.5 412,225 409,221.2 400,222"/>
<polyline points="419.5,216 424,223.5 416.5,226.5 412,225"/>
<polyline points="419.5,216 432.2,214.5"/>
<polyline points="424,223.5 430.7,217.5 432.2,214.5 436.7,210"/>
<polyline points="436,187.5 437.5,204 436.7,210"/>
<polyline points="435.2,177 436.7,187.5 449.5,187.5 452.5,184.5 451.7,178.5 463.7,176.2 462.2,171"/>
<polyline points="441.2,173.2 448,172.5 462.2,171 483.2,168 496,166.2"/>
<polyline points="483.2,168 481.7,171.7 476.5,177.7 470.5,176.2 466,177 463.7,176.2"/>
<polyline points="449.5,187.5 454,189 453.2,194.2 456.2,196.5 457,201.7"/>
<polyline points="454,189 459.2,189 466,188.2 468.2,182.2 466,177"/>
<polyline points="466,188.2 464.5,195 466,201"/>
<polyline points="464.5,195 467.5,192.7 473.5,190.5 478,183 476.5,177.7"/>
<polyline points="478,183 481.7,171.7"/>
<polyline points="478,183 484,187.5 490,184.5 496,186"/>
<polyline points="473.5,190.5 478,195 484,196.5"/>
<polyline points="437.5,204 440.5,204.7 457,201.7 466,201 470.5,200.2 484,196.5 490,194.2 496,192.7"/>
<polyline points="436.7,210 445,207.7 448.7,210 445,219 440.5,222 435.2,220.5"/>
<polyline points="448.7,210 451,203.2"/>
<polyline points="445,219 448,222 451.7,214.5 451.7,209.2 455.5,208.5 455.5,205.5 461.5,204.7 462.2,210"/>
<polyline points="451.7,214.5 458.5,216 452.5,231 449.5,237 445,234 440,232"/>
<polyline points="448,222 438.7,230"/>
<polyline points="458.5,216 462.2,210 470.5,208.5 476.5,210 473.5,217.5 467.5,222 461.5,220.5 460,216.7"/>
<polyline points="476.5,210 479.5,205.5 481.7,198.7"/>
<polyline points="472,201.7 475,207.7 476.5,210"/>
<polyline points="467.5,222 464.5,231 466,240"/>
<polyline points="473.5,217.5 478,225 476.5,232.5 479.5,240"/>
<polyline points="452.5,231 459.2,240"/>
<polyline points="435.2,220.5 437.3,230"/>
<polyline points="416.5,226.5 414.2,230"/>
<polyline points="424,223.5 422.5,229.5 422.6,230"/>
<polyline points="276.5,125 277.2,140 278,152 277.2,160.2 278,174.5 278.7,188 279.5,200"/>
<polyline points="288.5,125 288.5,130.2 290,131 291.5,135.5 294.5,136.2 295.2,131.7 299,131 299.7,128.7 305,128 305.7,125"/>
<polyline points="307.2,125 308,128.7 313.2,130.2 317.7,128 320,125"/>
<polyline points="278,133.2 288.5,132.5 288.5,130.2"/>
<polyline points="288.5,132.5 287,159.5 278,161"/>
<polyline points="287,159.5 290.7,161.7 293.7,165.5 291.5,167.7 293,174.5"/>
<polyline points="295.2,136.2 299.7,138.5 301.2,144.5 304.2,149 305,155.7 308,157.2 309.5,164 293.7,165.5"/>
<polyline points="299,131 299.7,138.5"/>
<polyline points="305.7,128 311,134 310.2,140 314,143 311,146.7 311.7,151.2 305.7,154.2"/>
<polyline points="311.7,151.2 320,150.5 321.5,154.2 326.7,154.2 327.5,144.5 326,132.5 327.5,127.2"/>
<polyline points="314,130.2 315.5,135.5 320,134 326,132.5"/>
<polyline points="308,157.2 320,162.5 326.7,170 328.2,170.7"/>
<polyline points="309.5,164 310.2,174.5"/>
<polyline points="320,162.5 321.5,154.2"/>
<polyline points="326.7,170 329,176 329.7,180.5 335,185 338,188 338.8,190"/>
<polyline points="278,175.7 296,175.2 315.5,174.2 326.7,173 329,176"/>
<polyline points="326.7,154.2 332,160.2 336.5,160.2"/>
<polyline points="327.5,127.2 332,131 334.2,129.5 341,131 344.7,137 343.2,144.5 345.5,149.7 344.7,155.7"/>
<polyline points="344.7,137 354.5,135.5 358.2,141.5 359,149.7 357.5,153.5"/>
<polyline points="334.2,129.5 338,125"/>
<polyline points="354.5,135.5 353,129.5 356,125"/>
<polyline points="332,160.2 329,170 326.7,170"/>
<polyline points="336.5,155.7 336.5,169.2 328.2,170.7"/>
<polyline points="336.5,155.7 350,155 359,154.2 360.5,150.5"/>
<polyline points="350,155 350,169.2"/>
<polyline points="337.2,169.2 360.5,169.5"/>
<polyline points="344.7,170 343.2,183.5 362,183.2"/>
<polyline points="355.2,169.5 353.7,182.7"/>
<polyline points="353,183.5 353,190"/>
<polyline points="296,175.2 296.7,185.7 278.7,187.2"/>
<polyline points="296.7,185.7 315.5,185 315.5,174.2"/>
<polyline points="315.5,185 316.2,188.7 335,187.2 338,188"/>
<polyline points="296.7,185.7 297.9,190"/>
<polyline points="311.7,190 318.5,189.5 316.2,188.7"/>
<polyline points="318.5,189.5 318.6,190"/>
<polyline points="343.2,183.5 335,185"/>
<polyline points="390,256.3 400,255 424,252 440,249"/>
<polyline points="390,278.1 400,277 424,274 440,272"/>
<polyline points="390,247.2 392,247 396,236 390,230"/>
<polyline points="392,247 402,255"/>
<polyline points="396,236 404,240 414,232"/>
<polyline points="402,255 406,246 414,238 428,230"/>
<polyline points="414,238 424,242 432,250"/>
<polyline points="393,256 390,268"/>
<polyline points="390,268 392,278"/>
<polyline points="409,254 402,264 400,277"/>
<polyline points="424,252 414,262 411,270 412,275.6"/>
<polyline points="432,250 426,256 420,264 424,274"/>
<polyline points="373,290 373,296 374,310 374,330"/>
<polyline points="400,277 406,296 411,311 414,319"/>
<polyline points="361.7,290 362,294 350,296"/>
<polyline points="362,294 373,293"/>
<polyline points="387,290 389,296 385,302 374,305"/>
<polyline points="389,296 398,294 402,288 399.6,278"/>
<polyline points="385,302 394,306 408,304"/>
<polyline points="394,306 393,314 378,316 375,310"/>
<polyline points="378,316 379,326 394,324 404,322 414,319"/>
<polyline points="388,290 392,296 390,302"/>
<polyline points="411,311 422,310 424,319 428,327"/>
<polyline points="410,276 412,292 422,290 424,276"/>
<polyline points="412,292 420,299 432,296 436,288 424,276"/>
<polyline points="420,299 422,310"/>
<polyline points="432,296 440,299"/>
<polyline points="302.5,275 303,282 304,290"/>
<polyline points="319.8,275 320,277 319,281 304,282"/>
<polyline points="340,238 344,233 340,230.6"/>
<polyline points="340,238 343,244 353,248 356,254 354,259"/>
<polyline points="340,255.3 343,254 353,248"/>
<polyline points="340,264.3 348,263 354,259"/>
<polyline points="320,277 334,276 334.2,275"/>
<polyline points="334,276 335,284 330,290"/>
<polyline points="348,263 350,270 347,280 350,290"/>
<polyline points="344,233 350,240 355,248 357,254 354,259 356,264 353,270 350,278 349,290"/>
<polyline points="299.1,200 300,190"/>
<polyline points="316.1,200 317,190"/>
<polyline points="332,200 331,190"/>
<polyline points="340,205.6 344,202 343,190"/>
<polyline points="344,202 356,201 358,200 367,196"/>
<polyline points="352,190 352,199 358,200"/>
<polyline points="356,201 359,214 350,216 346,223 340,229"/>
<polyline points="359,214 368,212 370,202 367,196"/>
<polyline points="359,214 360,224 355,226 354,237 350,240"/>
<polyline points="360,224 378,222 379,212 368,212"/>
<polyline points="378,222 379,236 370,238 369,245 363,247 358,254"/>
<polyline points="354,237 370,238"/>
<polyline points="379,236 390,235"/>
<polyline points="369,245 382,243 390,244"/>
<polyline points="378,222 390,220"/>
<polyline points="363,247 366,258 370,260 390,256"/>
<polyline points="366,258 364,266 356,264"/>
<polyline points="370,260 372,274 390,272"/>
<polyline points="372,274 370,290"/>
<polyline points="358,274 372,274"/>
<polyline points="250,222.5 274.7,222.5 290.5,222.2 295,224"/>
<polyline points="282.2,200 285.2,207.5 287.5,215 290.5,221 295,224 298,230 299.5,235.2"/>
<polyline points="299.5,235.2 300.2,251 301,266 301.7,275"/>
<polyline points="260.5,200 261.2,212 250,212.7"/>
<polyline points="261.2,212 274,212 277.7,214.2 282.2,211.2 285.2,212.7"/>
<polyline points="261.2,212.7 262,222.5"/>
<polyline points="285.2,203 298.7,202.2 298.7,212.7 287.5,213.5"/>
<polyline points="298.7,202.2 299.5,200"/>
<polyline points="298.7,202.2 316,201.5 316.7,200"/>
<polyline points="316,201.5 316,212"/>
<polyline points="287.5,213.5 298.7,212.7 316,212 329.5,211.2 340,210.5"/>
<polyline points="329.5,211.2 328,204.5 334,200"/>
<polyline points="316,212 319,228.5 319.7,232.2 300.2,235.2"/>
<polyline points="329.5,211.2 331.7,219.5 338.5,230 340,232.2 338.5,239 325,242 323.5,236.7 319.7,232.2"/>
<polyline points="301,251.7 310,251 311.5,248 322,247.7 325,242"/>
<polyline points="322,247.7 325.7,258.5 325,265.2 301.7,266.7"/>
<polyline points="325,265.2 328,266 340,264.5"/>
<polyline points="319.7,266 319,275"/>
<polyline points="274.7,222.5 275.5,233 277,235.2 276.2,245.7 274,246.5 274.7,260 277,266 276.2,275"/>
<polyline points="250,232.2 259,231.5 265,230.7 266.5,233.7 274.7,232.2"/>
<polyline points="277,233 292,232.2 295,229.2 295,224"/>
<polyline points="250,243.5 256,245 274,246.2"/>
<polyline points="276.2,245.7 286,247.2 299.5,246.5"/>
<polyline points="250,262.2 274.7,260.7 299.5,260"/>
<polyline points="340,232.2 343,230.7"/>
<polyline points="338.5,239 340,245 343,246.5"/>
<polyline points="319,267 320,281 328,282 329,297"/>
<polyline points="304,290 311,291 316,298"/>
<polyline points="278,304.4 288,303 292,307 298,302.4 306,304"/>
</g></g>
<g fill="none" stroke="#101414" stroke-width="1.25" stroke-linejoin="round">
<polygon points="44.4,79.4 60,82.4 80,87 100,91 110,93 122,95 150,98 180,101 208,102.4 230,102.8 269,102.6 286,102 286,97 289,97 290,105 305,107 320,110 336,111.6 328,118 318,128 314,130 322,132 330,131 338,127 347,121 350,124 360,126 363,129 370,126 380,122 382,125 388,126 392,130 386,132 380,131 373,135 368,139 363,138 360,143 361,149 362,150 363,160 362,183 367,193 370,195 373,191 373,170 372,158 373,156 375,148 380,140 384,135 390,136 398,140 401,146 400,154 403,152 408,156 413,166 413,176 410,185 416,187 424,186 430,180 435,175 442,169 444,161 446,157 456,154 464,150 470,146 468,140 471,136 475,128 485,123 508,117 510,112 514,108 516,100 515,88 518,79 527,77 534,82 538,93 543,99 549,103 546,110 538,115 534,120 528,125 525.3,130 522.6,138 522,142.7 525,144 523,147.4 525,151.4 528.6,154.8 532,156 534.5,155.7 536.2,153.5 534.8,150 532.6,148.8 533.4,150.4 534.8,153 533.6,154.6 532,156.5 530,158.8 528.6,160 526,158.8 523,160 520.6,161.5 515,165.5 510,168 503.8,171.5 501,174 501.8,179.6 503.2,185 501.4,192 499.6,198 495,196.5 490.6,196.4 492.4,200.6 496,204 498.4,207.8 498.4,212.6 496,218.6 494.2,224.6 493,227.6 494.8,232.4 497.2,235.4 499.6,240.2 502,243.8 498,250 496,258 490,262 484,270 482,277 474,283 470,289 464,296 459,301 455.5,307 454,316 453.8,322.5 456,328 459.5,333.8 468,349 476.4,364.7 482,378.8 483.6,388 483,393 480.6,395.7 474,396.5 468,398.5 466,395 459.5,384.4 455.2,377.4 451,371.8 445.4,363.3 446.8,356.3 444,347.8 435.5,342 428.5,336.5 422,340 414,345 408,340 400,337 390,337 386,339 382,341 379,335 376,341 368,343 364,348 365,354 371,358 366,362 360,358 354,361 348,361 345,357 338,357 330,354 324,355 316,355 314,356 304,359 298,365 288,373 280,378 275,384 273,392 275,400 278,408 274,408 264,405 255,400 250,389 242,378 234,366 228,359 224,359 217,357 212,362 208,368 200,363 192,357 188,346 178,336 170,327 152,328.4 152,333 141,332 112,327 80,308 82,305.6 53,303.6 51,298 43,285 30,273 22,268 21,260 17,250 14,240 15,236 13,226 10,219 7,210 4,200 2,190 2,184 7,166 9,155 11,150 15,140 19,130 22,120 25,111 23.6,100 24,90 25,82 25,74.5 42,78.5"/>
<polygon points="501,177.5 507,173 514,169 519.5,166.8 520,168.2 515,171 508.5,175 502,179"/>
</g>
<g stroke="#0a2a2a" stroke-width="0.5" fill="#fff"><path d="M25.3,79.6 L41.5,85.2 L41,87.2 L25.3,81.6 Z"/><path d="M40.5,85.5 L42.8,80 L45,84 L45.3,92 L43.2,93.5 L41.6,89.5 Z"/><path d="M488.2,199.4 L485.8,204.2 L487,209 L488.2,213.2 L491.2,216.2 L493,219.8 L492.4,224.6 L493.2,228.5 L494.8,232.4 L491.8,228.2 L490,222.2 L488.2,217.4 L485.8,213.8 L484,209 L484.6,203 Z"/></g>
<g font-size="16.2" style="white-space:pre">
<text x="17.9" y="14.8" textLength="84.1" lengthAdjust="spacing">NOAA/NCEI</text>
<text x="110.2" y="14.8" textLength="57" lengthAdjust="spacing">Climate</text>
<text x="175.1" y="14.8" textLength="57.7" lengthAdjust="spacing">Division</text>
<text x="240.6" y="14.8" textLength="79.8" lengthAdjust="spacing">Composite</text>
<text x="329.9" y="14.8" textLength="94.7" lengthAdjust="spacing">Temperature</text>
<text x="430.9" y="14.8" textLength="77.5" lengthAdjust="spacing">Anomalies</text>
<text x="517.7" y="14.8" textLength="20.8" lengthAdjust="spacing">(F)</text>
</g>
<text x="205" y="57.3" font-size="34.5" fill="#111" textLength="171" lengthAdjust="spacingAndGlyphs" style="white-space:pre">JANUARY 2024</text>
<g font-size="12">
<text x="361.9" y="446.4" textLength="30.6" lengthAdjust="spacing">NOAA</text>
<text x="396.5" y="446.4" textLength="21.3" lengthAdjust="spacing">PSL</text>
<text x="421.8" y="446.4" textLength="21" lengthAdjust="spacing">and</text>
<text x="447.7" y="446.4" textLength="56.5" lengthAdjust="spacing">CIRES−CU</text>
</g>
<g stroke="#222" stroke-width="0.9">
<rect x="6.50" y="450.9" width="24.42" height="31.4" fill="#0828ff"/>
<rect x="30.92" y="450.9" width="24.42" height="31.4" fill="#0c54fa"/>
<rect x="55.34" y="450.9" width="24.42" height="31.4" fill="#1080ff"/>
<rect x="79.76" y="450.9" width="24.42" height="31.4" fill="#1898fc"/>
<rect x="104.18" y="450.9" width="24.42" height="31.4" fill="#18bcfc"/>
<rect x="128.60" y="450.9" width="24.42" height="31.4" fill="#14e4fc"/>
<rect x="153.02" y="450.9" width="24.42" height="31.4" fill="#20f6ea"/>
<rect x="177.44" y="450.9" width="24.42" height="31.4" fill="#3cf6c2"/>
<rect x="201.86" y="450.9" width="24.42" height="31.4" fill="#5cfaa0"/>
<rect x="226.28" y="450.9" width="24.42" height="31.4" fill="#8cfa72"/>
<rect x="250.70" y="450.9" width="24.42" height="31.4" fill="#ffffff"/>
<rect x="275.12" y="450.9" width="24.42" height="31.4" fill="#ffffff"/>
<rect x="299.54" y="450.9" width="24.42" height="31.4" fill="#ffff20"/>
<rect x="323.96" y="450.9" width="24.42" height="31.4" fill="#ffd818"/>
<rect x="348.38" y="450.9" width="24.42" height="31.4" fill="#ffb010"/>
<rect x="372.80" y="450.9" width="24.42" height="31.4" fill="#ff9010"/>
<rect x="397.22" y="450.9" width="24.42" height="31.4" fill="#ff6c08"/>
<rect x="421.64" y="450.9" width="24.42" height="31.4" fill="#ff4808"/>
<rect x="446.06" y="450.9" width="24.42" height="31.4" fill="#ff2000"/>
<rect x="470.48" y="450.9" width="24.42" height="31.4" fill="#e80000"/>
<rect x="494.90" y="450.9" width="24.42" height="31.4" fill="#c00000"/>
<rect x="519.32" y="450.9" width="24.42" height="31.4" fill="#900000"/>
</g>
<g font-size="15.2" text-anchor="end">
<text x="49.9" y="496.0">−5.0</text>
<text x="98.5" y="496.0">−4.0</text>
<text x="147.1" y="496.0">−3.0</text>
<text x="195.8" y="496.0">−2.0</text>
<text x="244.4" y="496.0">−1.0</text>
<text x="293.0" y="496.0">0.0</text>
<text x="341.6" y="496.0">1.0</text>
<text x="390.2" y="496.0">2.0</text>
<text x="438.9" y="496.0">3.0</text>
<text x="487.5" y="496.0">4.0</text>
<text x="536.1" y="496.0">5.0</text>
</g>
</svg>
</body></html>
